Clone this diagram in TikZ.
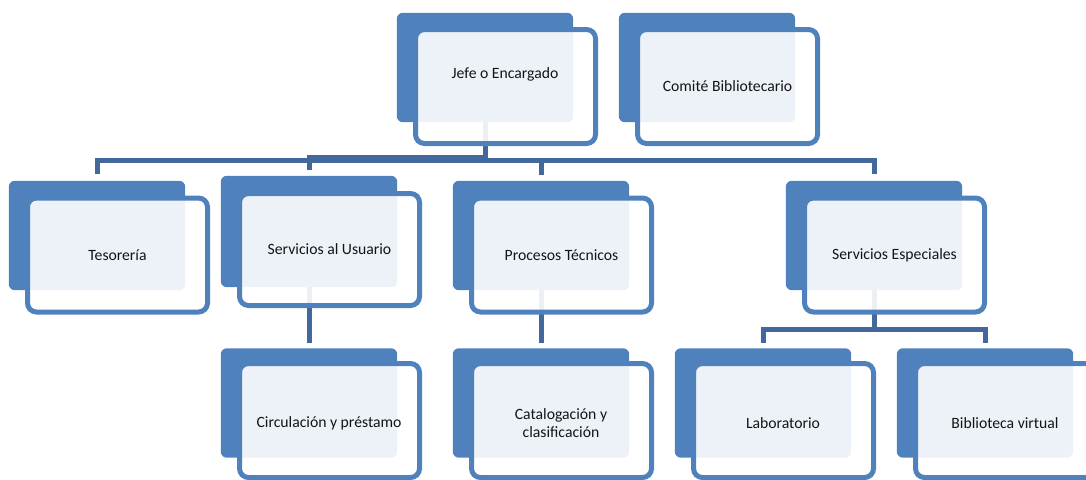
\documentclass[tikz,border=0pt]{standalone}
\usepackage{fontspec}
\setmainfont{Carlito}
\usetikzlibrary{calc}
\definecolor{acc}{RGB}{79,129,189}
\definecolor{conncol}{RGB}{66,104,156}
\definecolor{txt}{RGB}{20,20,20}
\tikzset{
  frontbox/.style={rectangle, rounded corners=9pt, fill=white, fill opacity=0.9,
    draw=acc, draw opacity=1, text opacity=1, line width=5pt,
    minimum width=180pt, minimum height=114pt, inner sep=0pt,
    font=\fontsize{15.7}{18}\selectfont, text=txt, align=center},
  lbl/.style={font=\fontsize{15.7}{18}\selectfont, text=txt, inner sep=0pt},
  conn/.style={draw=conncol, line width=5pt},
  backpos/.style={minimum width=176pt, minimum height=109pt, inner sep=0pt},
}
\begin{document}
\begin{tikzpicture}[x=1pt,y=-1pt]
\useasboundingbox (0,0) rectangle (1086,479);
\clip (0,0) rectangle (1086,479);
% back boxes (positions only, filled later)
\path
  (485,67.5) node[backpos] (jefeB) {}
  (707,67.5) node[backpos] (comB) {}
  (97,235.5) node[backpos] (tesB) {}
  (309,231.5) node[backpos, minimum height=111pt] (usuB) {}
  (541,235.5) node[backpos] (proB) {}
  (874,235.5) node[backpos] (espB) {}
  (309,403) node[backpos] (cirB) {}
  (541,403) node[backpos] (catB) {}
  (763,403) node[backpos] (labB) {}
  (985,403) node[backpos] (bibB) {};
% connectors
\coordinate (j1) at ($(jefeB.south)+(0,38.5)$);
\coordinate (j2) at ($(jefeB.south)+(0,35.5)$);
\draw[conn] (jefeB.south) -- (j1);
\draw[conn] ($(tesB.north)+(0,-7)$) -- (tesB.north |- j1) -- (espB.north |- j1) -- ($(espB.north)+(0,-7)$);
\draw[conn] (proB.north |- j1) -- ($(proB.north)+(0,-6)$);
\draw[conn] (j2) -- (usuB.north |- j2) -- ($(usuB.north)+(0,-6)$);
\draw[conn] (usuB.south) -- ($(cirB.north)+(0,-5)$);
\draw[conn] (proB.south) -- ($(catB.north)+(0,-5)$);
\coordinate (e1) at ($(espB.south)+(0,39.5)$);
\draw[conn] (espB.south) -- (e1);
\draw[conn] ($(labB.north)+(0,-5)$) -- (labB.north |- e1) -- (bibB.north |- e1) -- ($(bibB.north)+(0,-5)$);
% back boxes
\foreach \n in {jefeB,comB,tesB,usuB,proB,espB,cirB,catB,labB,bibB}
  \fill[acc, rounded corners=6pt] (\n.north west) rectangle (\n.south east);
% front boxes
\node[frontbox] (jefeF) at ($(jefeB)+(20.5,19)$) {};
\node[lbl] (jefeT) at (505,74) {Jefe o Encargado};
\node[frontbox] (comF) at ($(comB)+(20.5,19)$) {Comité Bibliotecario};
\node[frontbox] (tesF) at ($(tesB)+(20.5,19.5)$) {Tesorería};
\node[frontbox, minimum height=112pt] (usuF) at ($(usuB)+(20.5,18)$) {Servicios al Usuario};
\node[frontbox] (proF) at ($(proB)+(20.5,19.5)$) {Procesos Técnicos};
\node[frontbox] (espF) at ($(espB)+(20.5,19.5)$) {Servicios Especiales};
\node[frontbox] (cirF) at ($(cirB)+(20.5,17.5)$) {};
\node[lbl] (cirT) at (329,423) {Circulación y préstamo};
\node[frontbox] (catF) at ($(catB)+(20.5,17.5)$) {};
\node[lbl, align=center] (catT) at (561,423) {Catalogación y\\clasificación};
\node[frontbox] (labF) at ($(labB)+(20.5,17.5)$) {};
\node[lbl] (labT) at (783,423) {Laboratorio};
\node[frontbox] (bibF) at ($(bibB)+(20.5,17.5)$) {};
\node[lbl] (bibT) at (1005,423) {Biblioteca virtual};
\end{tikzpicture}
\end{document}
